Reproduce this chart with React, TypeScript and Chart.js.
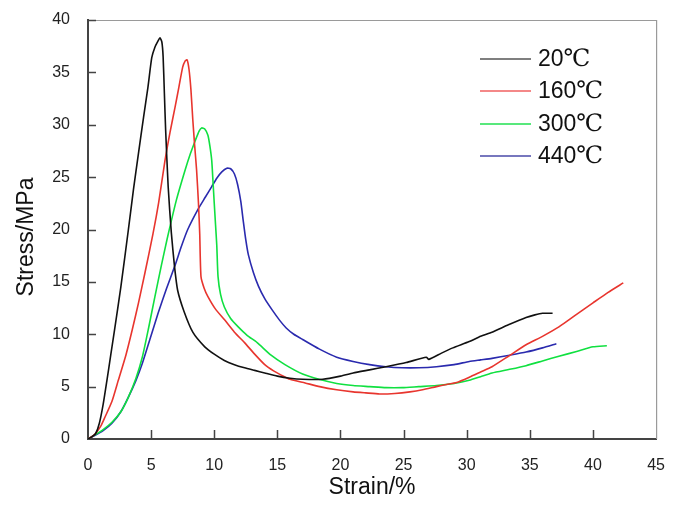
import React, { useEffect, useRef } from "react";
import { Chart, registerables } from "chart.js";

Chart.register(...registerables);

const seriesNumbers = ["20", "160", "300", "440"];
const unitLabel = "℃";
const seriesColors = ["#111111", "#e8352e", "#10e040", "#2a2aae"];
const legendColors = ["#555555", "#f06060", "#20e050", "#4a4aa8"];

const strain20 = [0, 0.3, 0.6, 0.9, 1.2, 1.5, 1.8, 2.1, 2.6, 3.2, 3.6, 4.0, 4.4, 4.75, 5.05, 5.3, 5.55, 5.7, 5.85, 5.95, 6.05, 6.15, 6.35, 6.6, 6.85, 7.1, 7.6, 8.3, 9.25, 10.0, 10.8, 11.6, 12.4, 13.2, 14.0, 15.0, 16, 17, 18.6, 20, 21, 22.3, 23.6, 25.2, 26.8, 27.0, 28, 28.9, 30.2, 31.1, 32.0, 33.3, 34.7, 35.4, 36.0, 36.8];
const stress20 = [0, 0.2, 0.5, 1.5, 3.3, 5.6, 8.0, 10.4, 14.5, 20, 23.8, 27.3, 30.7, 33.6, 36.4, 37.4, 38.0, 38.3, 37.9, 36.5, 33, 29.5, 24.1, 19.7, 16.5, 14.2, 12.2, 10.2, 8.8, 8.1, 7.5, 7.1, 6.8, 6.55, 6.3, 6.0, 5.8, 5.7, 5.7, 6.0, 6.3, 6.6, 6.9, 7.3, 7.8, 7.6, 8.2, 8.7, 9.3, 9.8, 10.2, 10.9, 11.6, 11.85, 12.0, 12.0];

const strain160 = [0, 0.5, 1.0, 1.35, 1.9, 2.4, 3.0, 3.5, 4.0, 4.5, 5.15, 5.6, 6.1, 6.5, 6.9, 7.2, 7.5, 7.7, 7.85, 8.0, 8.15, 8.3, 8.45, 8.6, 8.75, 8.85, 8.95, 9.2, 9.5, 10.1, 10.8, 11.6, 12.4, 13.2, 14.0, 14.7, 15.3, 16, 17.2, 18.35, 19.7, 21, 22, 23.1, 24.3, 25.5, 26.5, 27.6, 28.4, 29.2, 30.2, 31.1, 32.0, 33.3, 34.7, 36, 37.3, 38.7, 40.0, 41.2, 42.4];
const stress160 = [0, 0.4, 1.2, 2.1, 3.6, 5.6, 8.0, 10.4, 13.0, 15.8, 19.6, 22.6, 26.6, 29.3, 31.7, 33.6, 35.5, 36.1, 36.2, 35.3, 33.4, 30.5, 28, 25.7, 22.5, 19.6, 15.5, 14.4, 13.6, 12.4, 11.4, 10.2, 9.2, 8.1, 7.1, 6.5, 6.1, 5.7, 5.35, 5.0, 4.7, 4.5, 4.4, 4.3, 4.35, 4.5, 4.7, 5.0, 5.2, 5.4, 5.9, 6.4, 6.9, 7.9, 9.0, 9.8, 10.7, 11.9, 13.0, 14.0, 14.9];

const strain300 = [0, 0.55, 1.2, 1.9, 2.6, 3.2, 3.8, 4.3, 4.8, 5.3, 5.8, 6.25, 7.0, 7.7, 8.1, 8.5, 8.8, 9.0, 9.25, 9.5, 9.65, 9.8, 9.9, 10.0, 10.1, 10.2, 10.3, 10.5, 10.8, 11.3, 11.9, 12.6, 13.4, 14.5, 15.6, 17, 18.3, 19.7, 21, 22.3, 23.6, 24.9, 26.2, 27.6, 29, 30.2, 31.1, 32.0, 33.4, 34.7, 36, 37.3, 38.7, 40.0, 41.1];
const stress300 = [0, 0.4, 0.9, 1.6, 2.6, 4.0, 5.8, 7.8, 10.6, 13.6, 16.5, 19.0, 22.8, 25.7, 27.2, 28.5, 29.4, 29.7, 29.6, 29.0, 28, 26.6, 24.6, 22.5, 20.5, 18.5, 15.5, 13.8, 12.6, 11.5, 10.7, 9.9, 9.2, 8.0, 7.1, 6.2, 5.7, 5.3, 5.1, 5.0, 4.9, 4.9, 5.0, 5.1, 5.3, 5.6, 5.95, 6.3, 6.65, 7.0, 7.45, 7.9, 8.35, 8.8, 8.9];

const strain440 = [0, 0.5, 1.2, 1.9, 2.6, 3.2, 3.8, 4.3, 4.9, 5.55, 6.2, 6.9, 7.4, 7.9, 8.7, 9.3, 9.8, 10.2, 10.6, 11.0, 11.3, 11.6, 11.85, 12.1, 12.3, 12.5, 12.7, 13.1, 13.5, 14.0, 14.6, 15.2, 15.7, 16.3, 17.0, 18.3, 19.7, 21, 22.3, 23.6, 24.9, 26.2, 27.6, 29, 30.2, 31.1, 32.0, 33.4, 34.7, 36, 37.1];
const stress440 = [0, 0.3, 0.8, 1.5, 2.6, 4.0, 5.6, 7.2, 9.5, 12.0, 14.3, 16.6, 18.4, 20.0, 21.9, 23.1, 24.1, 24.9, 25.5, 25.85, 25.8, 25.3, 24.3, 22.7, 20.8, 19.0, 17.6, 15.9, 14.6, 13.4, 12.3, 11.3, 10.6, 10.0, 9.5, 8.6, 7.8, 7.4, 7.1, 6.9, 6.8, 6.8, 6.9, 7.1, 7.4, 7.55, 7.7, 8.0, 8.3, 8.7, 9.1];

const strains = [strain20, strain160, strain300, strain440];
const stresses = [stress20, stress160, stress300, stress440];

const xTicks = [0, 5, 10, 15, 20, 25, 30, 35, 40, 45];
const yTicks = [0, 5, 10, 15, 20, 25, 30, 35, 40];

const xTitle = "Strain/%";
const yTitle = "Stress/MPa";

const decorPlugin = {
  id: "decor",
  afterDraw(chart: any) {
    const { ctx, chartArea } = chart;
    const { left, right, top, bottom } = chartArea;
    const xs = chart.scales.x;
    const ys = chart.scales.y;
    ctx.save();
    ctx.strokeStyle = "#9a9a9a";
    ctx.lineWidth = 1.2;
    ctx.beginPath();
    ctx.moveTo(left, top + 0.5);
    ctx.lineTo(right + 0.5, top + 0.5);
    ctx.lineTo(right + 0.5, bottom);
    ctx.stroke();
    ctx.strokeStyle = "#444";
    ctx.lineWidth = 1.5;
    ctx.beginPath();
    for (const v of xTicks) {
      if (v === 0 || v === 45) continue;
      const px = Math.round(xs.getPixelForValue(v)) + 0.5;
      ctx.moveTo(px, bottom);
      ctx.lineTo(px, bottom - 9);
    }
    for (const v of yTicks) {
      if (v === 0) continue;
      const py = Math.round(ys.getPixelForValue(v)) + 0.5;
      ctx.moveTo(left, py);
      ctx.lineTo(left + 8, py);
    }
    ctx.stroke();
    ctx.fillStyle = "#111";
    ctx.font = "23px 'Liberation Sans', Arial, sans-serif";
    ctx.textAlign = "center";
    ctx.textBaseline = "middle";
    ctx.fillText(xTitle, (left + right) / 2, 488);
    ctx.translate(27, 237);
    ctx.rotate(-Math.PI / 2);
    ctx.fillText(yTitle, 0, 0);
    ctx.restore();
    ctx.save();
    const rowY = [59, 91, 124, 156];
    for (let i = 0; i < seriesNumbers.length; i++) {
      ctx.strokeStyle = legendColors[i];
      ctx.lineWidth = 1.5;
      ctx.beginPath();
      ctx.moveTo(480, rowY[i]);
      ctx.lineTo(531, rowY[i]);
      ctx.stroke();
      ctx.fillStyle = "#111";
      ctx.textAlign = "left";
      ctx.textBaseline = "middle";
      ctx.font = "23px 'Liberation Sans', Arial, sans-serif";
      ctx.fillText(seriesNumbers[i], 538, rowY[i] + 1);
      const w = ctx.measureText(seriesNumbers[i]).width;
      ctx.font = "24px 'DejaVu Serif', 'Liberation Serif', 'Noto Sans CJK SC', serif";
      ctx.fillText(unitLabel, 538 + w, rowY[i] + 1);
    }
    ctx.restore();
  },
};

export default function App() {
  const ref = useRef<HTMLCanvasElement | null>(null);
  useEffect(() => {
    if (!ref.current) return;
    const datasets = seriesNumbers.map((n, i) => ({
      label: n + unitLabel,
      data: strains[i].map((x, j) => ({ x, y: stresses[i][j] })),
      borderColor: seriesColors[i],
      backgroundColor: seriesColors[i],
      borderWidth: 1.6,
      showLine: true,
      pointRadius: 0,
      tension: 0.2,
      fill: false,
    }));
    const chart = new Chart(ref.current, {
      type: "scatter",
      data: { datasets },
      options: {
        animation: false,
        responsive: false,
        maintainAspectRatio: false,
        layout: { padding: { top: 20, right: 17, left: 0, bottom: 0 } },
        plugins: { legend: { display: false }, tooltip: { enabled: false } },
        scales: {
          x: {
            type: "linear",
            min: 0,
            max: 45,
            afterFit: (s: any) => { s.height = 77; },
            afterBuildTicks: (s: any) => { s.ticks = xTicks.map((v) => ({ value: v })); },
            grid: { display: false },
            border: { display: true, color: "#444", width: 2 },
            ticks: { color: "#222", padding: 9, font: { size: 16, family: "'Liberation Sans', Arial, sans-serif" }, maxRotation: 0 },
          },
          y: {
            type: "linear",
            min: 0,
            max: 40,
            afterFit: (s: any) => { s.width = 88; },
            afterBuildTicks: (s: any) => { s.ticks = yTicks.map((v) => ({ value: v })); },
            grid: { display: false },
            border: { display: true, color: "#444", width: 2 },
            ticks: { color: "#222", padding: 10, font: { size: 16, family: "'Liberation Sans', Arial, sans-serif" } },
          },
        },
      },
      plugins: [decorPlugin],
    });
    return () => chart.destroy();
  }, []);
  return (
    <div style={{ position: "fixed", left: 0, top: 0, width: 674, height: 516, background: "#fff" }}>
      <canvas ref={ref} width={674} height={516} style={{ display: "block" }} />
    </div>
  );
}
